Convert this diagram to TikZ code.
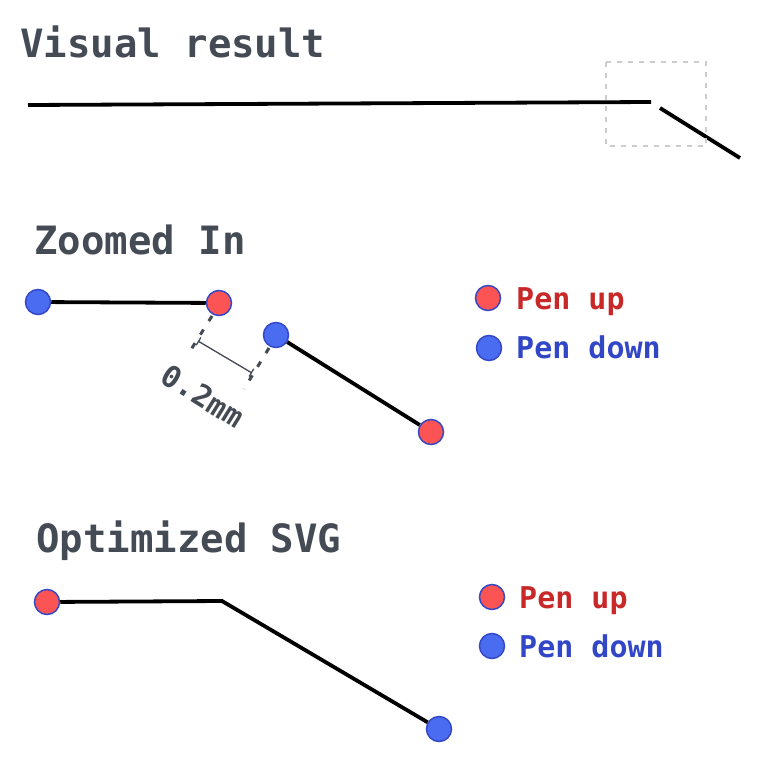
\documentclass[tikz,border=0pt]{standalone}
\usepackage{fontspec}
\setmonofont{DejaVu Sans Mono}
\usetikzlibrary{arrows.meta}
\definecolor{titlegray}{RGB}{69,75,85}
\definecolor{penred}{RGB}{252,84,84}
\definecolor{penblue}{RGB}{74,108,240}
\definecolor{rimblue}{RGB}{52,72,200}
\definecolor{txtred}{RGB}{200,40,40}
\definecolor{txtblue}{RGB}{50,70,200}
\tikzset{
  title/.style={anchor=base west,text=titlegray,font=\fontsize{39}{39}\selectfont\ttfamily\bfseries,inner sep=0pt},
  legend/.style={anchor=base west,font=\fontsize{30}{30}\selectfont\ttfamily\bfseries,inner sep=0pt},
  up/.style={circle,fill=penred,draw=rimblue,line width=1.5pt,minimum size=25pt,inner sep=0pt},
  down/.style={circle,fill=penblue,draw=rimblue,line width=1.5pt,minimum size=25pt,inner sep=0pt},
  stroke/.style={line width=3.8pt,black},
  ext/.style={line width=3pt,color=titlegray,dash pattern=on 6pt off 10pt}
}
\begin{document}
\begin{tikzpicture}[x=1pt,y=-1pt]
\useasboundingbox[fill=white] (0,0) rectangle (761,763);
\node[title] (vis) at (20,57) {Visual result};
\coordinate (v1) at (28,105);
\coordinate (v2) at (651,102);
\coordinate (v3) at (660,108);
\coordinate (v4) at (740,158);
\draw[stroke] (v1) -- (v2);
\draw[stroke] (v3) -- (v4);
\draw[gray!40,line width=2pt,dash pattern=on 5pt off 6pt] (606,62) rectangle (706,146);
\node[title] (zoom) at (34,254) {Zoomed In};
\node[down] (zd1) at (38,302) {};
\node[up] (zu1) at (219,303) {};
\node[down] (zd2) at (276,335) {};
\node[up] (zu2) at (431,432) {};
\draw[stroke] (zd1) -- (zu1);
\draw[stroke] (zd2) -- (zu2);
\coordinate (e1) at (187,356);
\coordinate (e2) at (244,389);
\coordinate (m1) at (198,341);
\coordinate (m2) at (252,373);
\draw[ext] (zu1) ++(-7,13) -- (e1);
\draw[ext] (zd2) ++(-7,13) -- (e2);
\draw[titlegray,line width=1.3pt,{Bar[width=9pt]}-{Bar[width=9pt]}] (m1) -- (m2);
\node[legend,anchor=center,text=titlegray,rotate=-32] (gap) at (203,396) {0.2mm};
\node[up] (lu1) at (488,298) {};
\node[legend,text=txtred] (lut1) at (516,309) {Pen up};
\node[down] (ld1) at (489,348) {};
\node[legend,text=txtblue] (ldt1) at (516,358) {Pen down};
\node[title] (opt) at (36,552) {Optimized SVG};
\node[up] (ou) at (47,602) {};
\coordinate (bend) at (222,601);
\node[down] (od) at (439,729) {};
\draw[stroke] (ou) -- (bend) -- (od);
\node[up] (lu2) at (492,597) {};
\node[legend,text=txtred] (lut2) at (519,608) {Pen up};
\node[down] (ld2) at (492,646) {};
\node[legend,text=txtblue] (ldt2) at (519,657) {Pen down};
\end{tikzpicture}
\end{document}
